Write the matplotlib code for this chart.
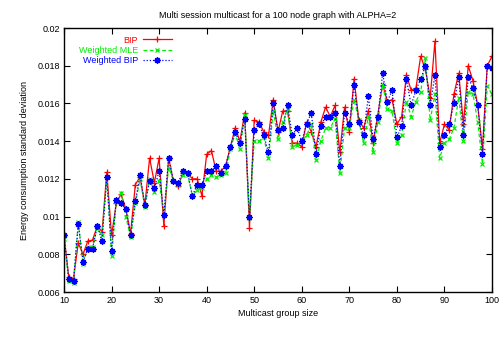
import matplotlib
matplotlib.use('Agg')
import matplotlib.pyplot as plt
from matplotlib.ticker import FuncFormatter, MultipleLocator

plt.rcParams['font.family'] = ['Liberation Sans', 'DejaVu Sans']

group_size = list(range(10, 101))

bip = [0.0090, 0.0068, 0.0067, 0.0086, 0.0080, 0.0087, 0.00875, 0.0095, 0.0092, 0.01235,
       0.0090, 0.0107, 0.0112, 0.0104, 0.0091, 0.0117, 0.0121, 0.0106, 0.0131, 0.0118,
       0.0131, 0.0095, 0.0131, 0.0119, 0.0116, 0.0123, 0.0123, 0.0120, 0.0120, 0.0111,
       0.0133, 0.0135, 0.0124, 0.0124, 0.0127, 0.0137, 0.0147, 0.0140, 0.0155, 0.0094,
       0.0151, 0.0150, 0.0145, 0.0143, 0.0162, 0.0145, 0.0156, 0.0156, 0.0139, 0.0139,
       0.0137, 0.0150, 0.0145, 0.0137, 0.0150, 0.0158, 0.0153, 0.0159, 0.0134, 0.0158,
       0.0145, 0.0173, 0.0151, 0.0147, 0.0156, 0.0139, 0.0154, 0.0170, 0.0161, 0.0162,
       0.0149, 0.0153, 0.0175, 0.0167, 0.0168, 0.0185, 0.0178, 0.0163, 0.0193, 0.0139,
       0.0149, 0.0146, 0.0165, 0.0176, 0.0149, 0.0180, 0.0172, 0.0159, 0.0136, 0.0180,
       0.0185]

weighted_mle = [0.0088, 0.0066, 0.0065, 0.0097, 0.0075, 0.0084, 0.0084, 0.0094, 0.0090, 0.0121,
                0.0079, 0.0108, 0.01125, 0.0100, 0.0089, 0.0107, 0.0120, 0.0105, 0.0120, 0.0113,
                0.0119, 0.0101, 0.0126, 0.0119, 0.0117, 0.0122, 0.0122, 0.0111, 0.0114, 0.0115,
                0.0120, 0.0122, 0.0121, 0.0122, 0.0123, 0.0136, 0.0144, 0.0136, 0.0154, 0.0099,
                0.0140, 0.0140, 0.0142, 0.0131, 0.0156, 0.0141, 0.0150, 0.0157, 0.0137, 0.0138,
                0.0140, 0.0143, 0.0149, 0.0130, 0.0140, 0.0147, 0.0147, 0.0152, 0.0123, 0.0147,
                0.0147, 0.0162, 0.0151, 0.0139, 0.0153, 0.0134, 0.0150, 0.0170, 0.0157, 0.0156,
                0.0139, 0.0143, 0.0161, 0.0153, 0.0161, 0.0166, 0.0184, 0.0151, 0.0165, 0.0131,
                0.0139, 0.0141, 0.0147, 0.0163, 0.0140, 0.0166, 0.0165, 0.0150, 0.0128, 0.0169,
                0.0165]

weighted_bip = [0.0090, 0.0067, 0.0066, 0.0096, 0.0076, 0.0083, 0.0083, 0.0095, 0.0087, 0.0121,
                0.0082, 0.0109, 0.0107, 0.0104, 0.0090, 0.0108, 0.0122, 0.0106, 0.0119, 0.0115,
                0.0124, 0.0101, 0.0131, 0.0119, 0.0118, 0.0124, 0.0123, 0.0111, 0.0117, 0.0117,
                0.0124, 0.0124, 0.0127, 0.0123, 0.0127, 0.0137, 0.0145, 0.0139, 0.0152, 0.0100,
                0.0146, 0.0149, 0.0143, 0.0134, 0.0160, 0.0146, 0.0147, 0.0159, 0.0143, 0.0147,
                0.0140, 0.0149, 0.0155, 0.0133, 0.0148, 0.0153, 0.0153, 0.0155, 0.0127, 0.0155,
                0.0149, 0.0170, 0.0150, 0.0143, 0.0164, 0.0141, 0.0153, 0.0176, 0.0161, 0.0167,
                0.0142, 0.0148, 0.0173, 0.0159, 0.0167, 0.0173, 0.0180, 0.0159, 0.0175, 0.0137,
                0.0143, 0.0149, 0.0160, 0.0174, 0.0143, 0.0174, 0.0168, 0.0159, 0.0133, 0.0180,
                0.0179]

fig = plt.figure(figsize=(5.02, 3.51), dpi=100)
ax = fig.add_axes([64 / 502, 1 - 292 / 351, 428 / 502, 264 / 351])

ax.plot(group_size, bip, color='#ff0000', linestyle='-', linewidth=0.9,
        marker='+', markersize=5, markeredgewidth=0.9, label='BIP')
ax.plot(group_size, weighted_mle, color='#00ee00', linestyle=(0, (3, 2)), linewidth=0.9,
        marker='x', markersize=3.5, markeredgewidth=0.9, label='Weighted MLE')
ax.plot(group_size, weighted_bip, color='#0000ff', linestyle=(0, (1, 1.5)), linewidth=0.9,
        marker=(8, 2, 0), markersize=4.5, markeredgewidth=1.0, label='Weighted BIP')

ax.set_xlim(10, 100)
ax.set_ylim(0.006, 0.02)
ax.xaxis.set_major_locator(MultipleLocator(10))
ax.yaxis.set_major_locator(MultipleLocator(0.002))
ax.yaxis.set_major_formatter(FuncFormatter(lambda v, p: '%g' % round(v, 6)))
ax.tick_params(direction='in', top=True, right=True, length=4, width=0.8,
               labelsize=6.5, pad=3)
for sp in ax.spines.values():
    sp.set_linewidth(1.0)

ax.set_title('Multi session multicast for a 100 node graph with ALPHA=2', fontsize=6.5, pad=7)
ax.set_xlabel('Multicast group size', fontsize=6.5, labelpad=3)
ax.set_ylabel('Energy consumption standard deviation', fontsize=6.5, labelpad=6)

leg = ax.legend(loc='upper left', bbox_to_anchor=(0.02, 0.995), frameon=False,
                markerfirst=False, fontsize=6.5, handlelength=3.2, handletextpad=0.5,
                labelspacing=0.15, labelcolor='linecolor', borderaxespad=0.3)

fig.savefig('out.png', dpi=100)
